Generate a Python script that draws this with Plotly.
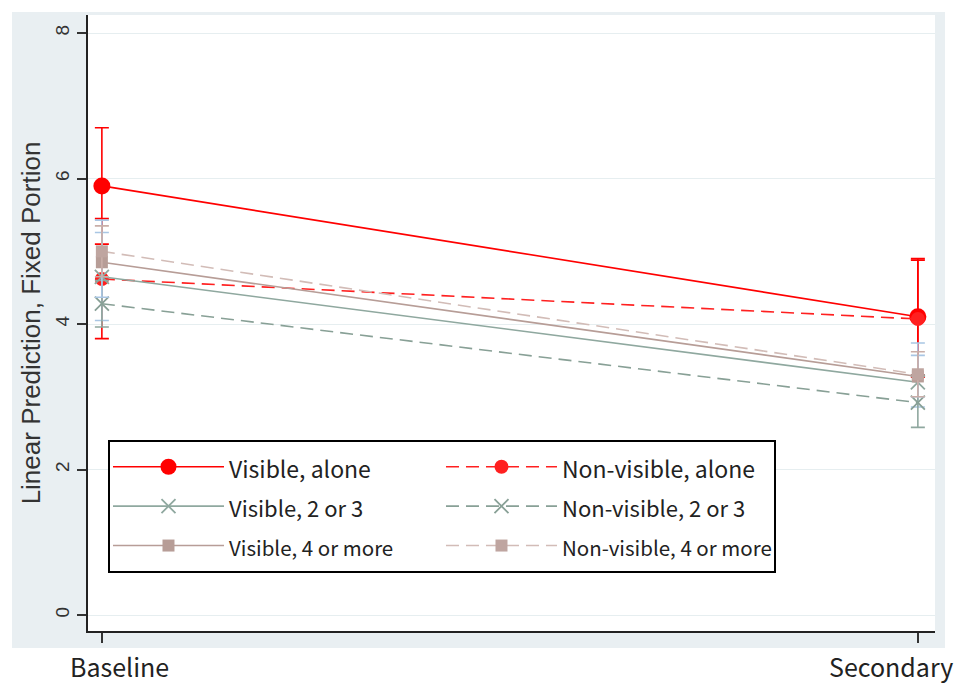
import plotly.graph_objects as go

# ---- data ----
periods = ["Baseline", "Secondary"]
xpos = [0, 1]

names = ["Visible, alone", "Non-visible, alone",
         "Visible, 2 or 3", "Non-visible, 2 or 3",
         "Visible, 4 or more", "Non-visible, 4 or more"]

vis_alone = [5.90, 4.10]
vis_alone_hi = [6.70, 4.90]
vis_alone_lo = [5.10, 3.30]

nv_alone = [4.62, 4.07]
nv_alone_hi = [5.45, 4.88]
nv_alone_lo = [3.80, 3.27]

vis_23 = [4.65, 3.20]
vis_23_hi = [5.26, 3.74]
vis_23_lo = [4.05, 2.86]

nv_23 = [4.28, 2.92]
nv_23_hi = [4.60, 3.30]
nv_23_lo = [3.96, 2.58]

vis_4 = [4.85, 3.28]
vis_4_hi = [5.43, 3.57]
vis_4_lo = [4.37, 3.00]

nv_4 = [5.00, 3.31]
nv_4_hi = [5.35, 3.62]
nv_4_lo = [4.65, 3.00]

series = [
    (names[0], vis_alone, vis_alone_hi, vis_alone_lo, "#ff0000", "solid", "circle", 17, "#ff0000", "vis", 23),
    (names[1], nv_alone, nv_alone_hi, nv_alone_lo, "#ff2020", "dash", "circle", 14, "#ff0000", "nv", 23),
    (names[2], vis_23, vis_23_hi, vis_23_lo, "#8fa89f", "solid", "x-thin", 14, "#a9c6e4", "vis", 22),
    (names[3], nv_23, nv_23_hi, nv_23_lo, "#88a096", "dash", "x-thin", 14, "#8fa89f", "nv", 22),
    (names[4], vis_4, vis_4_hi, vis_4_lo, "#b79d97", "solid", "square", 12, "#a9c6e4", "vis", 20.5),
    (names[5], nv_4, nv_4_hi, nv_4_lo, "#d2bcb7", "dash", "square", 12, "#c9aea8", "nv", 20.5),
]

fig = go.Figure()

for name, y, hi, lo, col, dash, sym, msize, ecol, grp, fs in series:
    plus = [h - v for h, v in zip(hi, y)]
    minus = [v - l for v, l in zip(y, lo)]
    marker = dict(symbol=sym, size=msize, color=col)
    if sym == "x-thin":
        marker["line"] = dict(color=col, width=1.8)
    if sym == "square":
        marker["color"] = "#b79d97" if dash == "solid" else "#bfa5a0"
    fig.add_trace(go.Scatter(
        x=xpos, y=y, mode="lines+markers",
        name='<span style="font-size:%spx">%s</span>' % (fs, name),
        legendgroup=grp,
        line=dict(color=col, width=1.6, dash="solid" if dash == "solid" else "13px,7px"),
        marker=marker,
        error_y=dict(type="data", symmetric=False, array=plus, arrayminus=minus,
                     color=ecol, thickness=1.6, width=7),
    ))

# The page body has an 8px default margin: size the figure so it ends at the window edge.
W, H = 954, 678
fig.update_layout(
    width=W, height=H,
    margin=dict(l=80, r=27, t=7, b=55),
    paper_bgcolor="white",
    plot_bgcolor="white",
    showlegend=True,
    legend=dict(
        orientation="h",
        traceorder="grouped",
        x=0.0236, y=0.31, xanchor="left", yanchor="top",
        bgcolor="white", bordercolor="black", borderwidth=2,
        font=dict(family="Noto Sans CJK JP, sans-serif", size=28, color="#222222"),
        itemwidth=111,
        entrywidth=207,
        tracegroupgap=0,
    ),
    xaxis=dict(
        range=[-0.017, 1.021], tickvals=xpos, ticktext=["", ""],
        showgrid=False, zeroline=False,
        showline=True, linecolor="#222222", linewidth=2,
        ticks="outside", ticklen=10, tickcolor="#333333", tickwidth=1.5,
    ),
    yaxis=dict(
        range=[-0.22, 8.25], tickvals=[0, 2, 4, 6, 8],
        tickangle=-90,
        showgrid=True, gridcolor="#e6eef0", gridwidth=1,
        zeroline=False,
        showline=True, linecolor="#222222", linewidth=2,
        ticks="outside", ticklen=9, tickcolor="#333333", tickwidth=1.5,
        tickfont=dict(family="Liberation Sans, Arial, sans-serif", size=19, color="#333333"),
        title=dict(text="Linear Prediction, Fixed Portion", standoff=4,
                   font=dict(family="Liberation Sans, Arial, sans-serif", size=26, color="#333333")),
    ),
    shapes=[
        dict(type="rect", xref="paper", yref="paper", x0=-0.0897, x1=1.0118, y0=-0.0276, y1=1.005,
             fillcolor="#e9eff2", line=dict(width=0), layer="below"),
        dict(type="rect", xref="paper", yref="paper", x0=0, x1=1, y0=0, y1=1,
             fillcolor="white", line=dict(width=0), layer="below"),
    ],
    annotations=[
        dict(x=xpos[0], y=-0.0575, xref="x", yref="paper", text=periods[0], showarrow=False,
             xshift=18, yanchor="middle",
             font=dict(family="Noto Sans CJK JP, sans-serif", size=25, color="#222222")),
        dict(x=xpos[1], y=-0.0575, xref="x", yref="paper", text=periods[1], showarrow=False,
             xshift=-27, yanchor="middle",
             font=dict(family="Noto Sans CJK JP, sans-serif", size=25, color="#222222")),
    ],
)

fig.write_html("out.html")
